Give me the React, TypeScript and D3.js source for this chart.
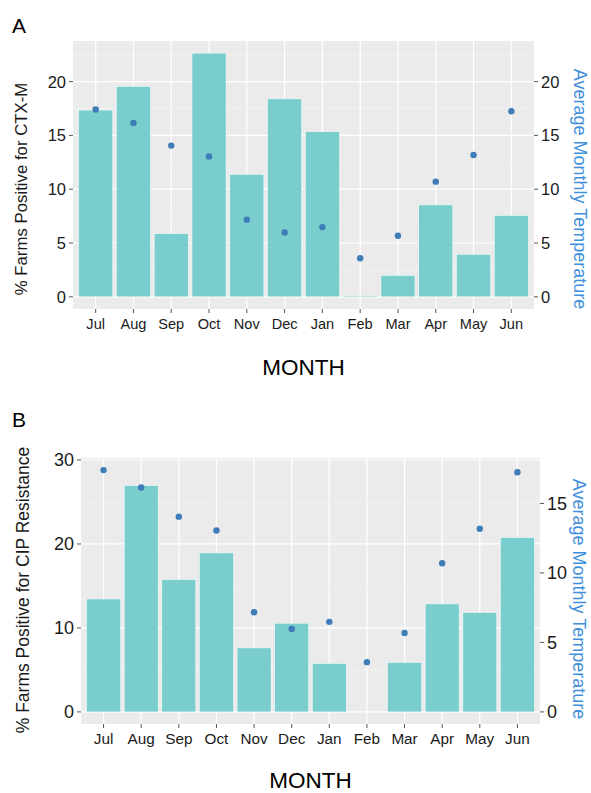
import React from 'react'
import * as d3 from 'd3'

const months = ['Jul', 'Aug', 'Sep', 'Oct', 'Nov', 'Dec', 'Jan', 'Feb', 'Mar', 'Apr', 'May', 'Jun']
const ctxm = [17.35, 19.54, 5.86, 22.64, 11.37, 18.39, 15.34, 0.1, 1.98, 8.54, 3.95, 7.55]
const cip = [13.45, 26.95, 15.76, 18.93, 7.62, 10.56, 5.76, 0, 5.88, 12.86, 11.83, 20.76]
const temps = [17.4, 16.15, 14.05, 13.05, 7.17, 5.97, 6.48, 3.58, 5.68, 10.7, 13.18, 17.25]
const ticksA = [0, 5, 10, 15, 20]
const ticksRightA = [0, 5, 10, 15, 20]
const ticksB = [0, 10, 20, 30]
const ticksRightB = [0, 5, 10, 15]
const tempRatioB = 1.655

const barColor = '#79CDCD'
const pointColor = '#3E7DB8'
const blueTitle = '#3F8FDB'
const font = 'Liberation Sans, Arial, sans-serif'

function Panel(props) {
    const { x0, x1, y0, y1, values, ratio, leftTicks, rightTicks, leftTitle, letter, letterY,
        tickSize, monthSize, leftSize, rightSize, leftTitleX, leftTitleY, rightTitleX, rightTitleY, monthBase, titleBase } = props

    const maxV = Math.max(d3.max(values), d3.max(temps.map(t => t * ratio)))
    const pad = maxV * 0.05
    const y = d3.scaleLinear().domain([-pad, maxV + pad]).range([y1, y0])
    const yr = d3.scaleLinear().domain([-pad / ratio, (maxV + pad) / ratio]).range([y1, y0])

    // ggplot discrete expansion: 0.6 of a step on each side
    const x = d3.scaleBand().domain(months).range([x0, x1]).paddingInner(0.1).paddingOuter(0.15)
    const center = (m) => x(m) + x.bandwidth() / 2

    const minor = []
    const lt = leftTicks
    for (let i = 0; i < lt.length - 1; i++) minor.push((lt[i] + lt[i + 1]) / 2)
    const dt = lt[1] - lt[0]
    if (lt[lt.length - 1] + dt / 2 < y.domain()[1]) minor.push(lt[lt.length - 1] + dt / 2)

    return (
        <g>
            <text x={12} y={letterY} fontSize={21} fontFamily={font}>{letter}</text>
            <rect x={x0} y={y0} width={x1 - x0} height={y1 - y0} fill="#EBEBEB" />
            {minor.map(v => (
                <line key={'mi' + v} x1={x0} x2={x1} y1={y(v)} y2={y(v)} stroke="#F7F7F7" strokeWidth={0.6} />
            ))}
            {lt.map(v => (
                <line key={'ma' + v} x1={x0} x2={x1} y1={y(v)} y2={y(v)} stroke="#fff" strokeWidth={1.2} />
            ))}
            {months.map(m => (
                <line key={'v' + m} x1={center(m)} x2={center(m)} y1={y0} y2={y1} stroke="#fff" strokeWidth={1.2} />
            ))}
            {months.map((m, i) => (
                <rect key={'b' + m} x={x(m)} width={x.bandwidth()}
                    y={y(values[i])} height={Math.max(0, y(0) - y(values[i]))}
                    fill={barColor} stroke={values[i] > 0 ? '#F4FBFB' : 'none'} strokeWidth={0.5} />
            ))}
            {months.map((m, i) => (
                <circle key={'p' + m} cx={center(m)} cy={y(temps[i] * ratio)} r={3.2} fill={pointColor} />
            ))}
            {/* left axis */}
            {lt.map(v => (
                <g key={'lt' + v}>
                    <line x1={x0 - 4} x2={x0} y1={y(v)} y2={y(v)} stroke="#555" strokeWidth={1} />
                    <text x={x0 - 7} y={y(v)} dy="0.36em" textAnchor="end" fontSize={tickSize} fontFamily={font} fill="#1a1a1a">{v}</text>
                </g>
            ))}
            {/* right axis */}
            {rightTicks.map(v => (
                <g key={'rt' + v}>
                    <line x1={x1} x2={x1 + 4} y1={yr(v)} y2={yr(v)} stroke="#555" strokeWidth={1} />
                    <text x={x1 + 7} y={yr(v)} dy="0.36em" fontSize={tickSize} fontFamily={font} fill="#1a1a1a">{v}</text>
                </g>
            ))}
            {/* x axis */}
            {months.map(m => (
                <g key={'xt' + m}>
                    <line x1={center(m)} x2={center(m)} y1={y1} y2={y1 + 4} stroke="#555" strokeWidth={1} />
                    <text x={center(m)} y={monthBase} textAnchor="middle" fontSize={monthSize} fontFamily={font} fill="#1a1a1a">{m}</text>
                </g>
            ))}
            <text x={(x0 + x1) / 2} y={titleBase} textAnchor="middle" fontSize={22.5} fontFamily={font} fill="#000">MONTH</text>
            <text transform={`translate(${leftTitleX},${leftTitleY}) rotate(-90)`} textAnchor="middle"
                dy="0.36em" fontSize={leftSize} fontFamily={font} fill="#1a1a1a">{leftTitle}</text>
            <text transform={`translate(${rightTitleX},${rightTitleY}) rotate(90)`} textAnchor="middle"
                dy="0.36em" fontSize={rightSize} fontFamily={font} fill={blueTitle}>Average Monthly Temperature</text>
        </g>
    )
}

export default function App() {
    return (
        <svg width={591} height={793} style={{ position: 'absolute', left: 0, top: 0, background: '#fff' }}>
            <Panel x0={73} x1={534} y0={41} y1={309} values={ctxm} ratio={1}
                leftTicks={ticksA} rightTicks={ticksRightA} leftTitle="% Farms Positive for CTX-M"
                letter="A" letterY={33} tickSize={16.5} monthSize={14.6} leftSize={16.8} rightSize={18}
                leftTitleX={21} leftTitleY={189} rightTitleX={580} rightTitleY={189}
                monthBase={329} titleBase={375} />
            <Panel x0={81} x1={540} y0={458} y1={724} values={cip} ratio={tempRatioB}
                leftTicks={ticksB} rightTicks={ticksRightB} leftTitle="% Farms Positive for CIP Resistance"
                letter="B" letterY={427} tickSize={18} monthSize={15.3} leftSize={17.5} rightSize={18}
                leftTitleX={23} leftTitleY={590} rightTitleX={579} rightTitleY={599}
                monthBase={744} titleBase={788} />
        </svg>
    )
}
